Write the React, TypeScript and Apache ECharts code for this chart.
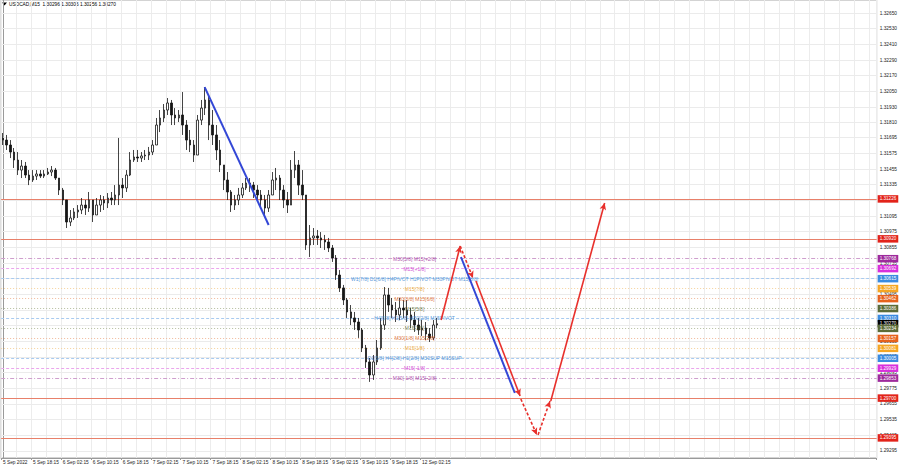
import React, { useEffect, useRef } from 'react';
import * as echarts from 'echarts';

// ---- time axis (hourly slots) ----
const tickLabels = ['5 Sep 2022', '5 Sep 18:15', '6 Sep 02:15', '6 Sep 10:15', '6 Sep 18:15', '7 Sep 02:15', '7 Sep 10:15', '7 Sep 18:15', '8 Sep 02:15', '8 Sep 10:15', '8 Sep 18:15', '9 Sep 02:15', '9 Sep 10:15', '9 Sep 18:15', '12 Sep 02:15'];
const slotCount = 234;
const labelEvery = 8;

// ---- price axis ----
const priceMin = 1.29241;
const priceMax = 1.3275;
const priceTicks = [1.3265, 1.3253, 1.3241, 1.3229, 1.3217, 1.3205, 1.3193, 1.3181, 1.31695, 1.31575, 1.31455, 1.31335, 1.31215, 1.31095, 1.30975, 1.30855, 1.30735, 1.30615, 1.30495, 1.30375, 1.30255, 1.30135, 1.30015, 1.29895, 1.29775, 1.29655, 1.29535, 1.29415, 1.29295];

// ---- candles (hourly) ----
const opens = [1.31693, 1.31677, 1.31639, 1.31585, 1.31524, 1.31447, 1.31478, 1.31409, 1.31371, 1.31401, 1.31417, 1.31401, 1.31417, 1.31432, 1.31447, 1.31386, 1.31294, 1.31218, 1.31049, 1.3108, 1.31126, 1.31141, 1.31179, 1.31156, 1.31218, 1.31103, 1.31179, 1.31218, 1.31195, 1.31233, 1.31218, 1.31256, 1.31332, 1.3131, 1.31409, 1.31524, 1.31547, 1.31539, 1.31555, 1.31562, 1.31585, 1.31639, 1.31792, 1.31846, 1.31907, 1.31961, 1.31869, 1.31846, 1.31869, 1.31792, 1.31677, 1.31639, 1.31562, 1.3183, 1.31922, 1.31984, 1.31792, 1.31716, 1.31601, 1.31486, 1.31371, 1.31279, 1.31179, 1.31218, 1.31256, 1.3131, 1.31348, 1.31332, 1.31294, 1.31256, 1.31218, 1.31156, 1.31256, 1.31371, 1.31386, 1.31294, 1.31218, 1.31179, 1.31447, 1.31486, 1.31332, 1.31256, 1.30873, 1.30927, 1.30942, 1.30927, 1.30911, 1.30896, 1.3085, 1.30773, 1.30643, 1.30544, 1.30452, 1.3036, 1.30314, 1.30283, 1.30222, 1.30084, 1.29977, 1.29877, 1.29977, 1.30084, 1.3026, 1.3049, 1.30413, 1.30375, 1.30337, 1.3039, 1.30375, 1.30337, 1.30298, 1.3026, 1.30222, 1.30237, 1.30191, 1.30161, 1.3026];
const closes = [1.31677, 1.31639, 1.31585, 1.31524, 1.31447, 1.31478, 1.31409, 1.31371, 1.31401, 1.31417, 1.31401, 1.31417, 1.31432, 1.31447, 1.31386, 1.31294, 1.31218, 1.31049, 1.3108, 1.31126, 1.31141, 1.31179, 1.31156, 1.31218, 1.31103, 1.31179, 1.31218, 1.31195, 1.31233, 1.31218, 1.31256, 1.31332, 1.3131, 1.31409, 1.31524, 1.31547, 1.31539, 1.31555, 1.31562, 1.31585, 1.31639, 1.31792, 1.31846, 1.31907, 1.31961, 1.31869, 1.31846, 1.31869, 1.31792, 1.31677, 1.31639, 1.31562, 1.3183, 1.31922, 1.31984, 1.31792, 1.31716, 1.31601, 1.31486, 1.31371, 1.31279, 1.31179, 1.31218, 1.31256, 1.3131, 1.31348, 1.31332, 1.31294, 1.31256, 1.31218, 1.31156, 1.31256, 1.31371, 1.31386, 1.31294, 1.31218, 1.31179, 1.31447, 1.31486, 1.31332, 1.31256, 1.30873, 1.30927, 1.30942, 1.30927, 1.30911, 1.30896, 1.3085, 1.30773, 1.30643, 1.30544, 1.30452, 1.3036, 1.30314, 1.30283, 1.30222, 1.30084, 1.29977, 1.29877, 1.29977, 1.30084, 1.3026, 1.3049, 1.30413, 1.30375, 1.30337, 1.3039, 1.30375, 1.30337, 1.30298, 1.3026, 1.30222, 1.30237, 1.30191, 1.30161, 1.3026, 1.3027];
const highs = [1.31731, 1.31716, 1.31677, 1.31616, 1.31585, 1.31524, 1.31509, 1.31447, 1.31447, 1.31447, 1.31447, 1.31447, 1.31463, 1.31478, 1.31463, 1.31386, 1.3131, 1.31218, 1.31141, 1.31156, 1.31179, 1.31233, 1.31218, 1.31279, 1.31218, 1.31233, 1.31256, 1.31248, 1.31271, 1.31279, 1.31332, 1.31693, 1.31386, 1.31447, 1.31585, 1.31601, 1.31601, 1.31585, 1.31601, 1.31624, 1.31677, 1.31846, 1.31907, 1.31953, 1.31999, 1.31984, 1.31922, 1.31907, 1.32045, 1.3183, 1.31754, 1.31677, 1.31869, 1.31984, 1.32083, 1.32022, 1.31907, 1.31792, 1.31677, 1.31486, 1.31432, 1.31294, 1.31256, 1.3131, 1.31348, 1.31386, 1.31386, 1.31356, 1.31332, 1.31294, 1.31256, 1.31294, 1.31432, 1.31463, 1.31409, 1.31332, 1.31279, 1.31524, 1.31593, 1.31524, 1.31447, 1.31256, 1.31026, 1.31003, 1.30988, 1.30972, 1.3095, 1.30927, 1.30873, 1.30796, 1.30681, 1.30567, 1.30467, 1.30413, 1.3036, 1.30314, 1.30237, 1.30107, 1.30007, 1.3003, 1.30145, 1.30314, 1.30551, 1.30544, 1.30467, 1.30436, 1.30467, 1.30452, 1.30452, 1.3039, 1.3036, 1.30314, 1.30298, 1.30283, 1.30237, 1.30298, 1.30314];
const lows = [1.31639, 1.31601, 1.31539, 1.31463, 1.31409, 1.31386, 1.31386, 1.31332, 1.31356, 1.31371, 1.31386, 1.31386, 1.31409, 1.31401, 1.31371, 1.31256, 1.31179, 1.31003, 1.31018, 1.31064, 1.3108, 1.3111, 1.31103, 1.31126, 1.31049, 1.31103, 1.31126, 1.31141, 1.31156, 1.31179, 1.31179, 1.31179, 1.31233, 1.31279, 1.31401, 1.31509, 1.31509, 1.31509, 1.31524, 1.31524, 1.31562, 1.31639, 1.31738, 1.31815, 1.31869, 1.31792, 1.31792, 1.31815, 1.31716, 1.31601, 1.31585, 1.31509, 1.31562, 1.31792, 1.31869, 1.31677, 1.31639, 1.31524, 1.31432, 1.31294, 1.31218, 1.31126, 1.31141, 1.31179, 1.31233, 1.31294, 1.31279, 1.31233, 1.31218, 1.31156, 1.31103, 1.31126, 1.31256, 1.31294, 1.31218, 1.31156, 1.31118, 1.31179, 1.31386, 1.31256, 1.31218, 1.30835, 1.30781, 1.30873, 1.30873, 1.3085, 1.30835, 1.30819, 1.30743, 1.30605, 1.30513, 1.30413, 1.30314, 1.3026, 1.30222, 1.30161, 1.30053, 1.29931, 1.29824, 1.29839, 1.29954, 1.30069, 1.30222, 1.3036, 1.30314, 1.30283, 1.30298, 1.30314, 1.30283, 1.30237, 1.30207, 1.30184, 1.30176, 1.30145, 1.3013, 1.30145, 1.30237];

// ---- horizontal levels ----
const levelValues = [1.31226, 1.3092, 1.30768, 1.30692, 1.30615, 1.30539, 1.30462, 1.30386, 1.3031, 1.3027, 1.30234, 1.30157, 1.30081, 1.30005, 1.29929, 1.29853, 1.297, 1.29395];
const levelTexts = ['', '', 'M30[5/8] M15[+2/8]', 'M15[+1/8]', 'W1[7/8] D1[6/8] H4PIVOT H1PIVOT M30PIVOT M15[8/8]', 'M15[7/8]', 'M30[3/8] M15[6/8]', 'M15[5/8]', 'H4[5/8] H1[5/8] M30[2/8] M15PIVOT', '', 'M15[3/8]', 'M30[1/8] M15[2/8]', 'M15[1/8]', 'D1[5/8] H4[2/8] H1[2/8] M30SUP M15SUP', 'M15[-1/8]', 'M30[-1/8] M15[-2/8]', '', ''];
const levelKinds = ['red', 'red', 'purple', 'magenta', 'blue', 'orange', 'orangeRed', 'olive', 'blue', 'current', 'olive', 'orangeRed', 'orange', 'blue', 'magenta', 'purple', 'red', 'red'];
const labelSlot = 110;

// ---- drawn trend / projection lines (slot index, price) ----
const trendFromX = [53.9, 122.4, 117.1, 122.2, 126.4, 138.4, 143.0, 146.4];
const trendFromY = [1.32083, 1.30781, 1.30298, 1.30865, 1.30597, 1.29693, 1.29418, 1.29678];
const trendToX = [71.0, 136.8, 122.2, 125.6, 138.2, 142.7, 146.2, 160.8];
const trendToY = [1.31026, 1.29739, 1.30865, 1.3062, 1.29716, 1.29418, 1.29678, 1.31195];
const trendKinds = ['blue', 'blue', 'red', 'redDash', 'red', 'redDash', 'redDash', 'red'];

const KIND: Record<string, { box: string; line: string; text: string; dash: any }> = {
  red: { box: '#e2231a', line: '#e8806a', text: '#e2231a', dash: 'solid' },
  purple: { box: '#9e2a9c', line: '#cf9fcd', text: '#9a2898', dash: [4, 2, 1, 2] },
  magenta: { box: '#d830dc', line: '#eba6ed', text: '#c52ac9', dash: [3, 2] },
  blue: { box: '#3a8be0', line: '#a9cbf0', text: '#2f7fd2', dash: [3, 2] },
  orange: { box: '#f5a623', line: '#f6d29c', text: '#e6950f', dash: [1, 2] },
  orangeRed: { box: '#e6621d', line: '#f1b89a', text: '#d45512', dash: [1, 2] },
  olive: { box: '#5c6c38', line: '#b4bd9e', text: '#56652f', dash: [1, 2] },
  current: { box: '#000000', line: 'rgba(0,0,0,0)', text: '#000', dash: 'solid' },
};

export default function App() {
  const ref = useRef<HTMLDivElement>(null);
  useEffect(() => {
    document.body.style.margin = '0';
    const chart = echarts.init(ref.current!, null, { renderer: 'svg' });
    const categories = Array.from({ length: slotCount }, (_, i) => String(i));
    const isLabelSlot = (i: number) => i % labelEvery === 0 && i / labelEvery < tickLabels.length;
    const candles = opens.map((o, i) => [o, closes[i], lows[i], highs[i]]);

    const levelLines = levelValues.map((v, i) => {
      const k = KIND[levelKinds[i]];
      return {
        yAxis: v,
        lineStyle: { color: k.line, type: k.dash, width: 1, opacity: 1 },
        label: {
          show: true,
          position: 'end',
          distance: 1,
          formatter: v.toFixed(5),
          backgroundColor: k.box,
          color: '#fff',
          fontSize: 4.6,
          padding: [1.5, 2, 1, 2],
        },
      };
    });

    const levelLabels = levelValues
      .map((v, i) => ({ v, i }))
      .filter((d) => levelTexts[d.i] !== '')
      .map((d) => ({
        value: [labelSlot, d.v],
        label: { formatter: levelTexts[d.i], color: KIND[levelKinds[d.i]].text },
      }));

    const trendLines = trendFromX.map((x, i) => {
      const kind = trendKinds[i];
      const isRed = kind !== 'blue';
      return [
        {
          coord: [x, trendFromY[i]],
          symbol: 'none',
          lineStyle: {
            color: isRed ? '#e8302c' : '#3347d6',
            width: isRed ? 1.6 : 2,
            type: kind === 'redDash' ? [3, 2] : 'solid',
          },
        },
        {
          coord: [trendToX[i], trendToY[i]],
          symbol: isRed ? 'arrow' : 'none',
          symbolSize: [5, 7],
        },
      ];
    });

    const option: any = {
      animation: false,
      backgroundColor: '#ffffff',
      textStyle: { fontFamily: 'Liberation Sans' },
      grid: { left: 0, top: 0, width: 877.5, height: 458, show: true, borderColor: '#a8a8a8', borderWidth: 1 },
      xAxis: [
        {
          type: 'category',
          data: categories,
          boundaryGap: true,
          axisLine: { lineStyle: { color: '#9a9a9a' } },
          axisTick: { show: true, interval: (i: number) => isLabelSlot(i), length: 2, lineStyle: { color: '#9a9a9a' } },
          axisLabel: {
            interval: (i: number) => isLabelSlot(i),
            formatter: (_v: string, i: number) => tickLabels[i / labelEvery] ?? '',
            fontSize: 4.8,
            color: '#222',
            align: 'left',
            margin: 2,
          },
          splitLine: { show: true, interval: (i: number) => i % 4 === 0, lineStyle: { color: '#ececec' } },
        },
        { type: 'value', min: -0.5, max: slotCount - 0.5, show: false },
      ],
      yAxis: {
        type: 'value',
        position: 'right',
        min: priceMin,
        max: priceMax,
        axisLine: { show: true, lineStyle: { color: '#9a9a9a' } },
        axisTick: { show: true, customValues: priceTicks, length: 2, lineStyle: { color: '#9a9a9a' } },
        axisLabel: {
          customValues: priceTicks,
          formatter: (v: number) => v.toFixed(5),
          fontSize: 4.8,
          color: '#222',
          margin: 3,
        },
        splitLine: { show: false },
      },
      graphic: [
        { type: 'polygon', shape: { points: [[2, 2.5], [7, 2.5], [4.5, 5.5]] }, style: { fill: '#000' } },
        {
          type: 'text',
          left: 9,
          top: 1.5,
          style: { text: 'USDCAD,M15  1.30296 1.30306 1.30256 1.30270', fontSize: 4.8, fill: '#000', fontFamily: 'Liberation Sans' },
        },
      ],
      series: [
        {
          type: 'line',
          data: [],
          z: 1,
          markLine: {
            silent: true,
            z: 1,
            precision: 5,
            symbol: ['none', 'none'],
            label: { show: false },
            lineStyle: { color: '#ebebeb', type: 'solid', width: 1 },
            data: priceTicks.map((v) => ({ yAxis: v })),
          },
        },
        {
          type: 'line',
          data: [],
          z: 1,
          markLine: {
            silent: true,
            z: 1,
            precision: 5,
            symbol: ['none', 'none'],
            data: levelLines,
          },
        },
        {
          type: 'candlestick',
          data: candles,
          barWidth: 2,
          z: 2,
          itemStyle: { color: '#ffffff', color0: '#151515', borderColor: '#151515', borderColor0: '#151515', borderWidth: 0.8 },
        },
        {
          type: 'scatter',
          xAxisIndex: 1,
          yAxisIndex: 0,
          symbolSize: 0,
          z: 4,
          silent: true,
          label: { show: true, position: 'inside', fontSize: 5 },
          data: levelLabels,
          markLine: {
            silent: true,
            z: 6,
            precision: 5,
            symbol: ['none', 'none'],
            label: { show: false },
            data: trendLines,
          },
        },
      ],
    };
    chart.setOption(option);
    return () => chart.dispose();
  }, []);
  return <div ref={ref} style={{ width: 900, height: 468 }} />;
}
